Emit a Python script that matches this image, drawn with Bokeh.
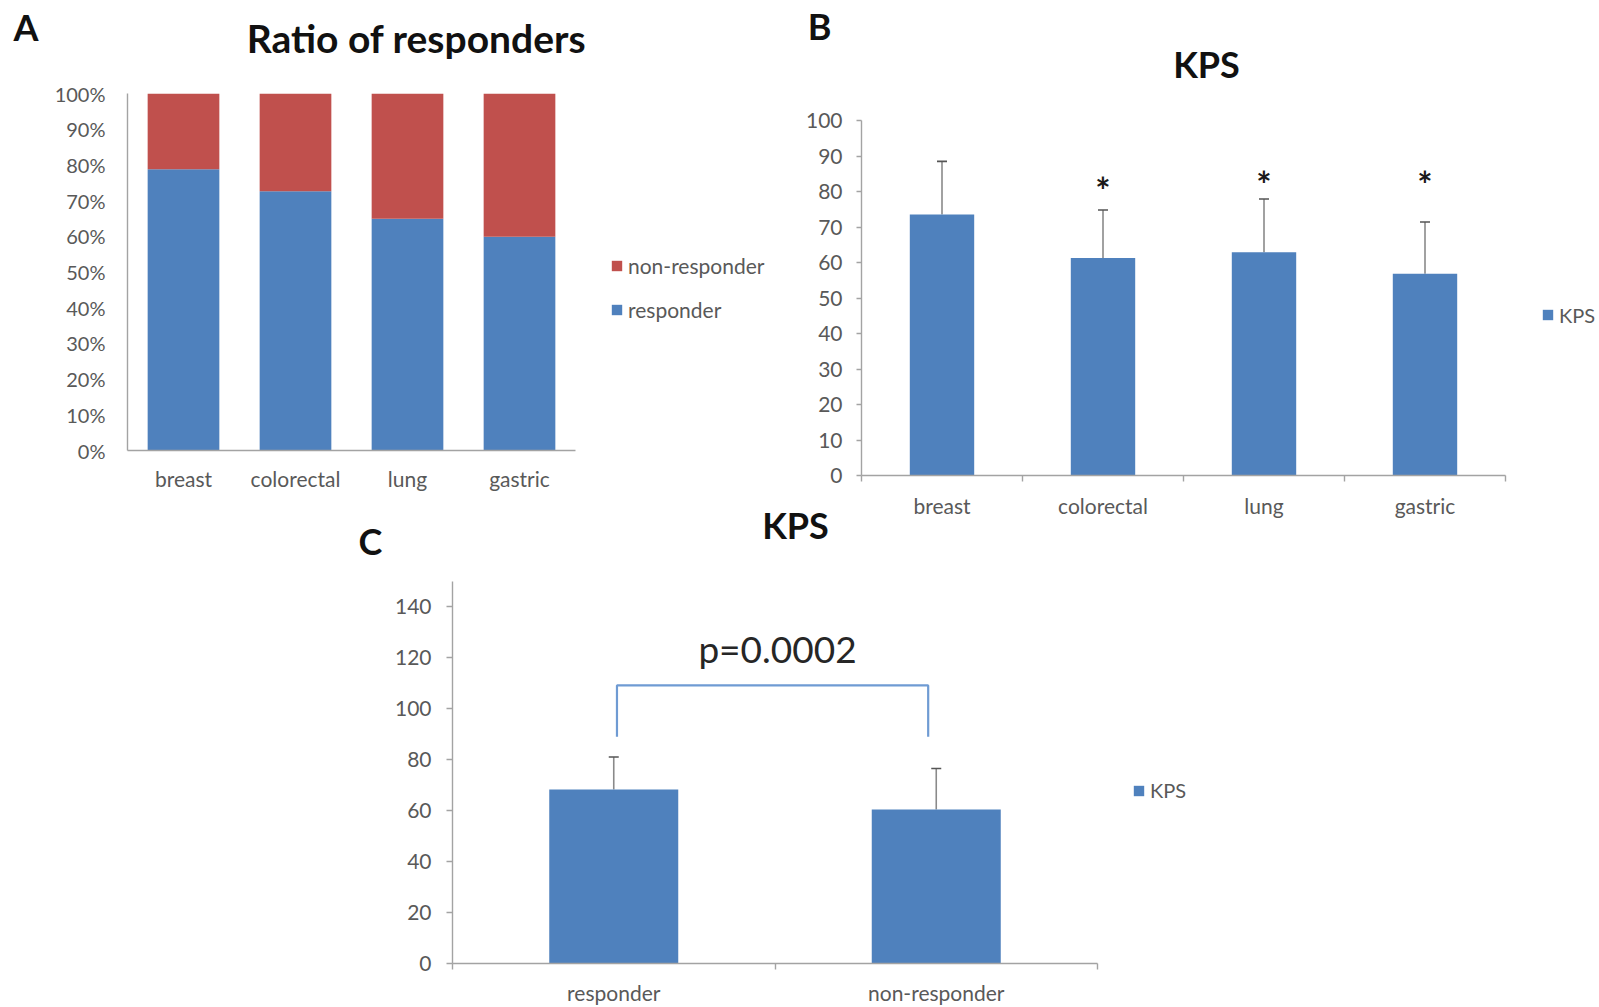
import numpy as np
from bokeh.plotting import figure
from bokeh.models import (Range1d, FixedTicker, Label, Legend, LegendItem, Whisker,
                          TeeHead, Spacer, ColumnDataSource)
from bokeh.layouts import row, column
from bokeh.embed import file_html
from bokeh.resources import INLINE
from bokeh.core.properties import value

# ---------------- data ----------------
cancer_types = ["breast", "colorectal", "lung", "gastric"]
responder_ratio = [0.788, 0.726, 0.649, 0.599]
non_responder_ratio = [0.212, 0.274, 0.351, 0.401]
pct_ticks = [0.0, 0.1, 0.2, 0.3, 0.4, 0.5, 0.6, 0.7, 0.8, 0.9, 1.0]
pct_tick_labels = ["0%", "10%", "20%", "30%", "40%", "50%", "60%", "70%", "80%", "90%", "100%"]

kps_type_mean = [73.5, 61.3, 62.9, 56.8]
kps_type_sd = [15.0, 13.5, 15.0, 14.6]
kps_type_sig = ["", "*", "*", "*"]
kps_type_sig_level = [0.0, 82.6, 84.5, 84.5]
kps_type_ticks = [0, 10, 20, 30, 40, 50, 60, 70, 80, 90, 100]

response_groups = ["responder", "non-responder"]
kps_resp_mean = [68.3, 60.5]
kps_resp_sd = [12.8, 16.1]
kps_resp_ticks = [0, 20, 40, 60, 80, 100, 120, 140]
p_value_text = "p=0.0002"
bracket_top = 109.2
bracket_bottom = 89.0

# ---------------- styling ----------------
BLUE = "#4f81bd"
RED = "#c0504d"
AX = "#a3a3a3"
TICKTXT = "#595959"
FONT = "Lato"

TOP_H = 520
OVERLAP = 17
C_Y0 = TOP_H - OVERLAP
C_H = 1007 - C_Y0

# page geometry: fig (x0, y0, w, h), frame (left, right, top, bottom)
GA = dict(fig=(0, 0, 600, TOP_H), frame=(127, 575, 93, 450))
GB = dict(fig=(790, 0, 735, TOP_H), frame=(861, 1505, 120, 475))
GC = dict(fig=(340, C_Y0, 770, C_H), frame=(452, 1097, 581, 963))
LA = (600, 0, 190, TOP_H)
LB = (1525, 0, 74, TOP_H)
LC = (1110, C_Y0, 130, C_H)


def make_fig(g, xr, yr):
    x0, y0, w, h = g["fig"]
    fl, fr, ft, fb = g["frame"]
    p = figure(width=w, height=h, x_range=Range1d(*xr), y_range=Range1d(*yr),
               output_backend="svg", toolbar_location=None,
               min_border_left=fl - x0, min_border_right=x0 + w - fr,
               min_border_top=ft - y0, min_border_bottom=y0 + h - fb)
    p.frame_align = False
    p.outline_line_color = None
    p.grid.visible = False
    for ax in p.axis:
        ax.axis_line_color = AX
        ax.axis_line_width = 1.4
        ax.major_tick_line_color = AX
        ax.major_tick_line_width = 1.4
        ax.minor_tick_line_color = None
        ax.major_label_text_font = FONT
        ax.major_label_text_color = TICKTXT
        ax.major_label_text_font_size = "20px"
    for ax in p.xaxis:
        ax.major_label_text_font_size = "21px"
    return p


def to_data(g, xr, yr, px, py):
    fl, fr, ft, fb = g["frame"]
    x = xr[0] + (px - fl) / (fr - fl) * (xr[1] - xr[0])
    y = yr[0] + (fb - py) / (fb - ft) * (yr[1] - yr[0])
    return x, y


def add_text(p, g, xr, yr, px, py, text, size, bold=True, color="#111111", side="above"):
    x, y = to_data(g, xr, yr, px, py)
    lab = Label(x=x, y=y, text=text, text_font=FONT, text_font_size=size,
                text_font_style="bold" if bold else "normal", text_color=color,
                text_align="center", text_baseline="middle")
    if side == "center":
        p.add_layout(lab)
    else:
        p.add_layout(lab, side)


def legend_fig(g, items, left_px, first_center_py, step, size="21px", item_h=24, transparent=False):
    x0, y0, w, h = g
    lf = figure(width=w, height=h, x_range=Range1d(1, 2), y_range=Range1d(1, 2),
                output_backend="svg", toolbar_location=None, min_border=0,
                x_axis_type=None, y_axis_type=None)
    lf.frame_align = False
    lf.outline_line_color = None
    if transparent:
        lf.border_fill_alpha = 0
        lf.background_fill_alpha = 0
    rs = []
    for lab, color in items:
        # a zero-size swatch outside the visible range: only its legend glyph shows
        r = lf.vbar(x=[0.0], top=[0.0], bottom=[0.0], width=0.0, fill_color=color, line_color=None)
        rs.append(LegendItem(label=lab, renderers=[r]))
    n = len(items)
    bottom = first_center_py + step * (n - 1) + item_h / 2
    leg = Legend(items=rs, location=(left_px - x0, y0 + h - bottom), orientation="vertical",
                 glyph_width=13, glyph_height=13, label_standoff=5,
                 spacing=int(round(step - item_h)), padding=0, margin=0,
                 border_line_color=None, background_fill_alpha=0,
                 label_text_font=FONT, label_text_font_size=size,
                 label_text_color=TICKTXT, label_height=item_h)
    lf.add_layout(leg)
    return lf


# ---------------- Panel A ----------------
xrA, yrA = (0, len(cancer_types)), (0, 1)
pA = make_fig(GA, xrA, yrA)
xa = [i + 0.5 for i in range(len(cancer_types))]
srcA = ColumnDataSource(dict(x=xa, resp=responder_ratio, non=non_responder_ratio,
                             top_non=[r + n for r, n in zip(responder_ratio, non_responder_ratio)]))
pA.vbar(x="x", width=0.64, bottom=0, top="resp", source=srcA, fill_color=BLUE, line_color=None)
pA.vbar(x="x", width=0.64, bottom="resp", top="top_non", source=srcA, fill_color=RED, line_color=None)
pA.xaxis.ticker = FixedTicker(ticks=xa)
pA.xaxis.major_label_overrides = {x: c for x, c in zip(xa, cancer_types)}
pA.xaxis.major_tick_line_color = None
pA.xaxis.major_tick_out = 0
pA.xaxis.major_label_standoff = 15
pA.yaxis.ticker = FixedTicker(ticks=pct_ticks)
pA.yaxis.major_label_overrides = {t: l for t, l in zip(pct_ticks, pct_tick_labels)}
pA.yaxis.major_tick_line_color = None
pA.yaxis.major_tick_out = 0
pA.yaxis.major_label_standoff = 22
add_text(pA, GA, xrA, yrA, 25.5, 26, "A", "36px", side="left")
add_text(pA, GA, xrA, yrA, 416, 37, "Ratio of responders", "39px")
legA = legend_fig(LA, [("non-responder", RED), ("responder", BLUE)], 610, 266.7, 43.3)

# ---------------- Panel B ----------------
xrB, yrB = (0, len(cancer_types)), (0, 100)
pB = make_fig(GB, xrB, yrB)
xb = [i + 0.5 for i in range(len(cancer_types))]
srcB = ColumnDataSource(dict(x=xb, m=kps_type_mean,
                             up=[m + s for m, s in zip(kps_type_mean, kps_type_sd)]))
wB = Whisker(base="x", upper="up", lower="m", source=srcB, dimension="height",
             line_color="#8a8a8a", line_width=1.6,
             upper_head=TeeHead(size=10, line_color="#555555", line_width=1.6), lower_head=None)
pB.add_layout(wB)
pB.vbar(x="x", width=0.4, top="m", bottom=0, source=srcB, fill_color=BLUE, line_color=None)
pB.xaxis.ticker = FixedTicker(ticks=xb, minor_ticks=list(range(len(cancer_types) + 1)))
pB.xaxis.major_label_overrides = {x: c for x, c in zip(xb, cancer_types)}
pB.xaxis.major_tick_line_color = None
pB.xaxis.major_tick_out = 0
pB.xaxis.minor_tick_line_color = AX
pB.xaxis.minor_tick_line_width = 1.4
pB.xaxis.minor_tick_out = 6
pB.xaxis.minor_tick_in = 0
pB.xaxis.major_label_standoff = 11
pB.yaxis.ticker = FixedTicker(ticks=kps_type_ticks)
pB.yaxis.major_tick_out = 5
pB.yaxis.major_tick_in = 0
pB.yaxis.major_label_standoff = 14
pB.yaxis.major_label_text_font_size = "21px"
sig_x = [x for x, s in zip(xb, kps_type_sig) if s]
sig_y = [y for y, s in zip(kps_type_sig_level, kps_type_sig) if s]
sig_t = [s for s in kps_type_sig if s]
pB.text(x=sig_x, y=sig_y, text=sig_t, text_font=value(FONT), text_font_style="bold",
        text_font_size="36px", text_align="center", text_baseline="middle",
        text_color="#1a1a1a", y_offset=8)
add_text(pB, GB, xrB, yrB, 819, 25, "B", "36px")
add_text(pB, GB, xrB, yrB, 1206, 63, "KPS", "36px")
legB = legend_fig(LB, [("KPS", BLUE)], 1541, 314.5, 30, size="20px")

# ---------------- Panel C ----------------
xrC, yrC = (0, len(response_groups)), (0, 150)
pC = make_fig(GC, xrC, yrC)
pC.border_fill_alpha = 0
pC.background_fill_alpha = 0
xc = [i + 0.5 for i in range(len(response_groups))]
srcC = ColumnDataSource(dict(x=xc, m=kps_resp_mean,
                             up=[m + s for m, s in zip(kps_resp_mean, kps_resp_sd)]))
wC = Whisker(base="x", upper="up", lower="m", source=srcC, dimension="height",
             line_color="#8a8a8a", line_width=1.6,
             upper_head=TeeHead(size=10, line_color="#555555", line_width=1.6), lower_head=None)
pC.add_layout(wC)
pC.vbar(x="x", width=0.4, top="m", bottom=0, source=srcC, fill_color=BLUE, line_color=None)
pC.xaxis.ticker = FixedTicker(ticks=xc, minor_ticks=list(range(len(response_groups) + 1)))
pC.xaxis.major_label_overrides = {x: c for x, c in zip(xc, response_groups)}
pC.xaxis.major_tick_line_color = None
pC.xaxis.major_tick_out = 0
pC.xaxis.minor_tick_line_color = AX
pC.xaxis.minor_tick_line_width = 1.4
pC.xaxis.minor_tick_out = 6
pC.xaxis.minor_tick_in = 0
pC.xaxis.major_label_standoff = 10
pC.yaxis.ticker = FixedTicker(ticks=kps_resp_ticks)
pC.yaxis.major_tick_out = 6
pC.yaxis.major_tick_in = 0
pC.yaxis.major_label_standoff = 15
pC.yaxis.major_label_text_font_size = "21px"
bx = [xc[0] + 0.01, xc[0] + 0.01, xc[1] - 0.025, xc[1] - 0.025]
by = [bracket_bottom, bracket_top, bracket_top, bracket_bottom]
pC.line(x=bx, y=by, line_color="#6f9bd3", line_width=2.2)
add_text(pC, GC, xrC, yrC, 370, 540, "C", "36px", side="left")
add_text(pC, GC, xrC, yrC, 795, 524, "KPS", "36px")
add_text(pC, GC, xrC, yrC, 777, 648, p_value_text, "37px", bold=False, color="#262626", side="center")
legC = legend_fig(LC, [("KPS", BLUE)], 1132, 790, 30, size="20px", transparent=True)

top_row = row(pA, legA, pB, legB)
bottom_row = row(Spacer(width=340, height=C_H), pC, legC, margin=(-OVERLAP, 0, 0, 0))
layout = column(top_row, bottom_row)
open("out.html", "w").write(file_html(layout, INLINE))
